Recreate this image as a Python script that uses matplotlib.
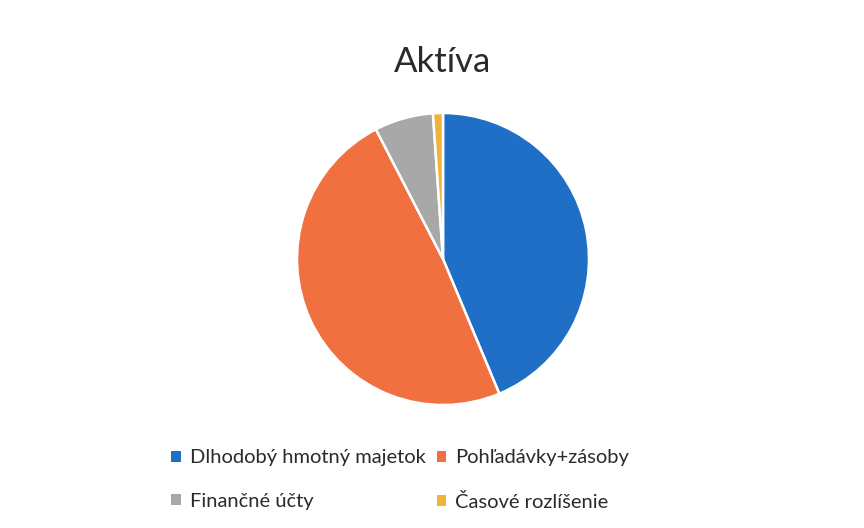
import matplotlib.pyplot as plt
from matplotlib.patches import Patch

labels = ["Dlhodobý hmotný majetok", "Pohľadávky+zásoby", "Finančné účty", "Časové rozlíšenie"]
values = [43.7, 48.7, 6.5, 1.1]
colors = ["#1f6fc6", "#f0703f", "#a8a8a8", "#f2b33d"]

plt.rcParams["font.family"] = ["Lato", "DejaVu Sans"]

fig = plt.figure(figsize=(8.64, 5.28), dpi=100)
W, H = 864, 528
cx, cy, r = 443, 259, 146
ax = fig.add_axes([(cx - r) / W, (H - cy - r) / H, 2 * r / W, 2 * r / H])
ax.pie(values, colors=colors, startangle=90, counterclock=False,
       wedgeprops=dict(edgecolor="white", linewidth=1.8))
ax.set_xlim(-1, 1)
ax.set_ylim(-1, 1)

fig.text(cx / W, 1 - 62 / H, "Aktíva", ha="center", va="center",
         fontsize=25, color="#2a2a2a")

# legend fills row by row in the reference
order = [0, 2, 1, 3]
handles = [Patch(facecolor=colors[i], edgecolor="none") for i in order]
leg = fig.legend(handles, [labels[i] for i in order], ncol=2, loc="center",
                 bbox_to_anchor=(400 / W, 1 - 480 / H), frameon=False,
                 fontsize=14.5, handlelength=0.45, handleheight=0.45,
                 handletextpad=0.45, columnspacing=0.55, labelspacing=1.3)
for t in leg.get_texts():
    t.set_color("#2a2a2a")

fig.savefig("out.png", dpi=100, facecolor="white")
